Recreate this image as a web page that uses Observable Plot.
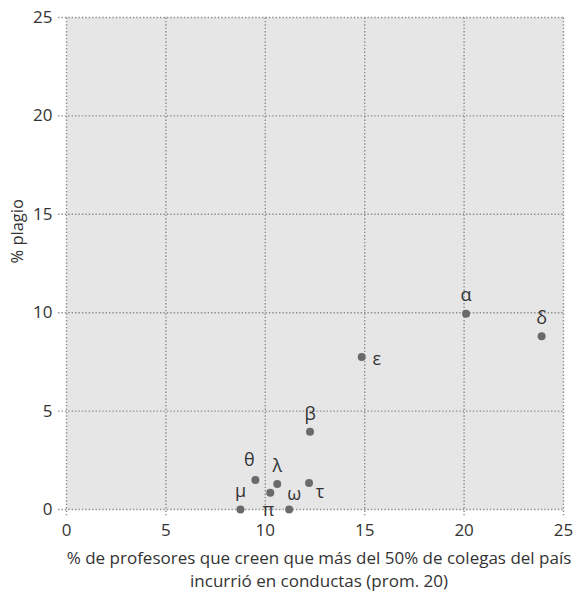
<!DOCTYPE html>
<html><head><meta charset="utf-8">
<script src="https://cdn.jsdelivr.net/npm/d3@7"></script>
<script src="https://cdn.jsdelivr.net/npm/@observablehq/plot@0.6"></script>
<style>body{margin:0;background:#fff}</style>
</head><body><div id="chart"></div>
<script>
const labels = ["α","δ","ε","β","θ","λ","τ","π","μ","ω"];
const xValues = [20.1,23.9,14.85,12.25,9.5,10.6,12.2,10.25,8.75,11.2];
const yValues = [9.95,8.8,7.75,3.95,1.5,1.3,1.35,0.85,0,0];
const placement = ["above","above","right","above","aboveLeft","above","belowRight","below","above","aboveRight"];
const xTicks = [0,5,10,15,20,25];
const yTicks = [0,5,10,15,20,25];
const xLabel = "% de profesores que creen que más del 50% de colegas del país\nincurrió en conductas (prom. 20)";
const yLabel = "% plagio";

const data = labels.map((l,i)=>({label:l, x:xValues[i], y:yValues[i], pos:placement[i]}));
const offsets = {above:[0,-18], aboveLeft:[-6,-20], aboveRight:[5,-15], right:[15,2], belowRight:[11,9], below:[-2,17]};
const font = "Open Sans, Liberation Sans, sans-serif";
const gridStyle = {stroke:"#8c8c8c", strokeWidth:1.4, strokeDasharray:"1.4,2"};

const labelMarks = Object.entries(offsets).map(([k,[dx,dy]]) =>
  Plot.text(data.filter(d=>d.pos===k), {x:"x", y:"y", text:"label", dx, dy, fontSize:18, fill:"#333", fontFamily:font})
);

const chart = Plot.plot({
  width:574, height:591,
  marginLeft:66, marginRight:11, marginTop:17, marginBottom:82,
  x:{domain:[0,25]}, y:{domain:[0,25]},
  style:{fontFamily:font, background:"#fff"},
  marks:[
    Plot.frame({fill:"#e6e6e7", stroke:null}),
    Plot.ruleX(xTicks, {x:d=>d, y1:-0.32, y2:25, ...gridStyle}),
    Plot.ruleY(yTicks, {y:d=>d, x1:-0.4, x2:25, ...gridStyle}),
    Plot.axisX({ticks:xTicks, tickSize:0, tickPadding:14, fontSize:17, fill:"#333", label:null}),
    Plot.axisY({ticks:yTicks, tickSize:0, tickPadding:14, fontSize:17, fill:"#333", label:null}),
    Plot.dot(data, {x:"x", y:"y", r:4, fill:"#6a6a6a", stroke:null}),
    ...labelMarks,
    Plot.text([xLabel], {frameAnchor:"bottom", dx:4, dy:59, lineAnchor:"middle", lineHeight:1.33, fontSize:17, fill:"#333", fontFamily:font}),
    Plot.text([yLabel], {frameAnchor:"left", dx:-49, rotate:-90, fontSize:16.5, fill:"#333", fontFamily:font})
  ]
});
document.getElementById("chart").appendChild(chart);
</script></body></html>
